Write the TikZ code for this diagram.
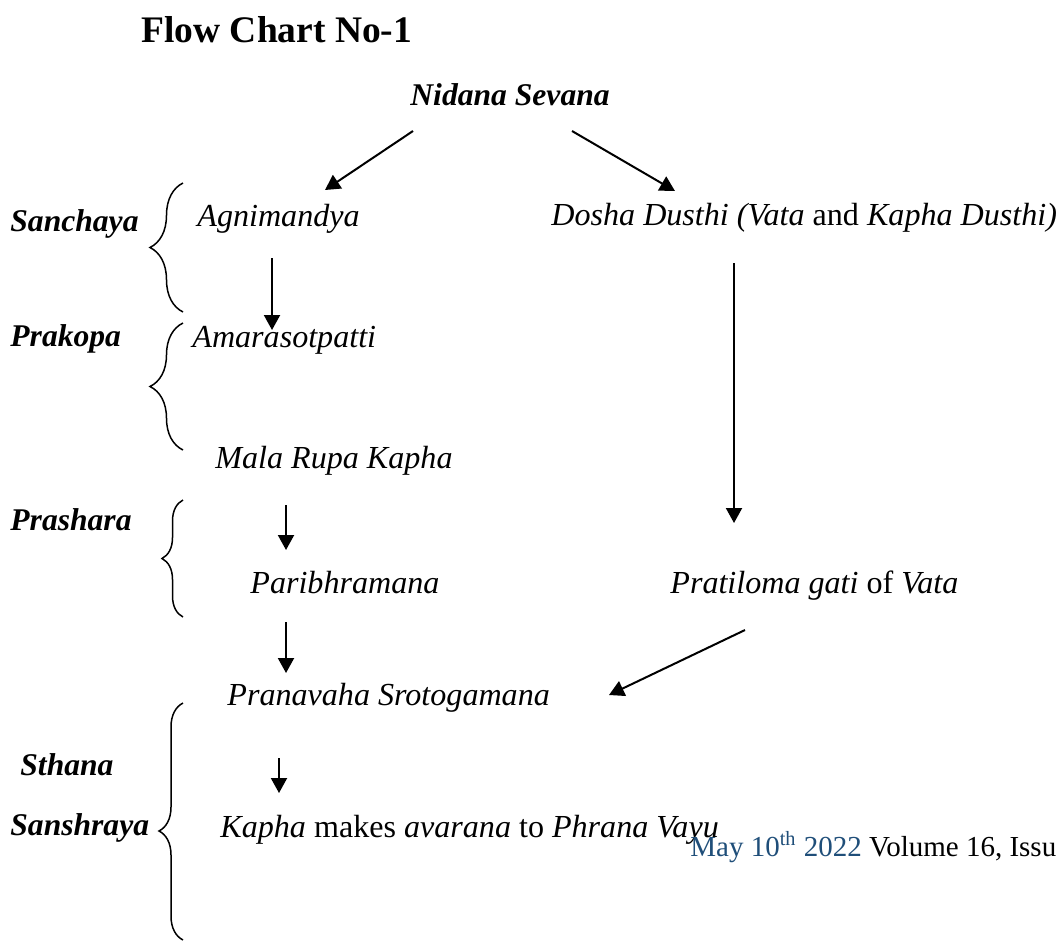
\documentclass[tikz,border=0pt]{standalone}
\usepackage{fontspec}
\setmainfont{Liberation Serif}
\usetikzlibrary{arrows.meta,calc,decorations.pathreplacing}
\definecolor{datecol}{HTML}{1F4E79}

\begin{document}
\begin{tikzpicture}[x=0.5pt, y=-0.5pt,
    every node/.style={inner sep=0pt, anchor=base west, font=\fontsize{16.05}{19}\selectfont\itshape},
    stage/.style={font=\fontsize{15.8}{19}\selectfont\bfseries\itshape},
    arr/.style={-{Triangle[length=7.5pt,width=8pt]}, line width=1pt},
    brc/.style={decorate, decoration={brace, amplitude=#1}, line width=0.75pt}]
  \useasboundingbox (0,0) rectangle (1058,949);

  \node[font=\fontsize{18.75}{22}\selectfont\bfseries] (title) at (141,42) {Flow Chart No-1};
  \node[stage] (nidana) at (410,105) {Nidana Sevana};

  % stages on the left
  \node[stage] (sanchaya) at (10,231) {Sanchaya};
  \node[stage] (prakopa) at (10,346) {Prakopa};
  \node[stage] (prashara) at (10,530) {Prashara};
  \node[stage] (sthana) at (20,775) {Sthana};
  \node[stage] (sanshraya) at (10,835) {Sanshraya};

  % left branch
  \node (agni) at (197,226) {Agnimandya};
  \node (amara) at (192,347) {Amarasotpatti};
  \node (mala) at (215,468) {Mala Rupa Kapha};
  \node (pari) at (250,593) {Paribhramana};
  \node (pran) at (227,705) {Pranavaha Srotogamana};
  \node (kapha) at (220,837) {Kapha {\upshape makes} avarana {\upshape to} Phrana Vayu};

  % right branch
  \node (dosha) at (551,225) {Dosha Dusthi (Vata {\upshape and} Kapha Dusthi)};
  \node (prati) at (670,593) {Pratiloma gati {\upshape of} Vata};

  \node[font=\fontsize{14.5}{17}\selectfont] (issue) at (690,856)
    {\textcolor{datecol}{May 10\textsuperscript{th} 2022} Volume 16, Issu};

  % braces
  \draw[brc=16.5pt] (183,312) -- (183,183);
  \draw[brc=16.5pt] (183,450) -- (183,323);
  \draw[brc=10.5pt] (183,617) -- (183,500);
  \draw[brc=12pt, decoration={aspect=0.46}] (183,940) -- (183,703);

  % arrows
  \draw[arr] ($(nidana.base west)+(3,26)$) -- ($(agni.base west)+(128,-36)$);
  \draw[arr] ($(nidana.base west)+(162,26)$) -- ($(dosha.base west)+(124,-34)$);
  \draw[arr] ($(agni.base west)+(75,32)$) -- ($(amara.base west)+(80,-17)$);
  \draw[arr] ($(dosha.base west)+(183,38)$) -- ($(prati.base west)+(64,-70)$);
  \draw[arr] ($(mala.base west)+(71,37)$) -- ($(pari.base west)+(36,-43)$);
  \draw[arr] ($(pari.base west)+(36,29)$) -- ($(pran.base west)+(59,-32)$);
  \draw[arr] ($(prati.base west)+(75,37)$) -- ($(pran.base west)+(382,-10)$);
  \draw[arr] ($(pran.base west)+(52,53)$) -- ($(kapha.base west)+(59,-44)$);
\end{tikzpicture}
\end{document}
